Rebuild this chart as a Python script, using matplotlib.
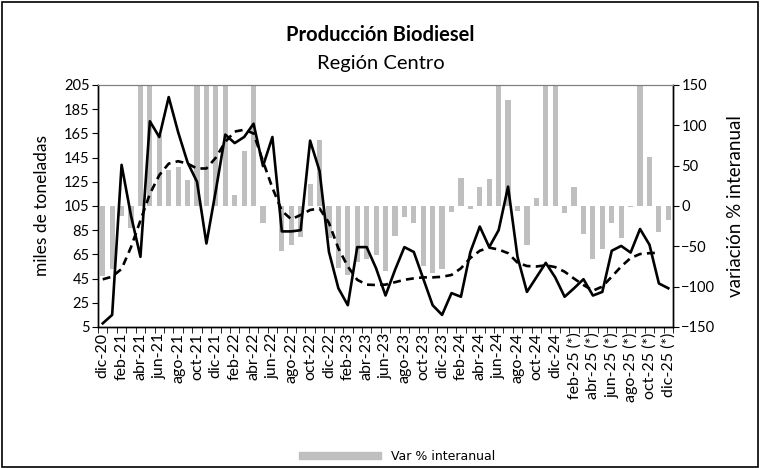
import matplotlib.pyplot as plt
import numpy as np
from matplotlib.patches import Patch, Rectangle

plt.rcParams['font.family'] = ['Lato', 'DejaVu Sans']

# meses dic-20 .. dic-25
meses = ['dic-20', 'ene-21', 'feb-21', 'mar-21', 'abr-21', 'may-21', 'jun-21', 'jul-21', 'ago-21',
         'sep-21', 'oct-21', 'nov-21', 'dic-21', 'ene-22', 'feb-22', 'mar-22', 'abr-22', 'may-22',
         'jun-22', 'jul-22', 'ago-22', 'sep-22', 'oct-22', 'nov-22', 'dic-22', 'ene-23', 'feb-23',
         'mar-23', 'abr-23', 'may-23', 'jun-23', 'jul-23', 'ago-23', 'sep-23', 'oct-23', 'nov-23',
         'dic-23', 'ene-24', 'feb-24', 'mar-24', 'abr-24', 'may-24', 'jun-24', 'jul-24', 'ago-24',
         'sep-24', 'oct-24', 'nov-24', 'dic-24', 'ene-25 (*)', 'feb-25 (*)', 'mar-25 (*)',
         'abr-25 (*)', 'may-25 (*)', 'jun-25 (*)', 'jul-25 (*)', 'ago-25 (*)', 'sep-25 (*)',
         'oct-25 (*)', 'nov-25 (*)', 'dic-25 (*)']

# produccion (miles de toneladas)
produccion = [8, 15, 139, 97, 63, 175, 162, 195, 166, 141, 125, 74,
              118, 164, 157, 162, 173, 138, 162, 84, 84, 85, 159, 134,
              67, 37, 23, 71, 71, 53.5, 31, 52, 71, 67, 45, 23,
              15, 33, 30, 67, 88, 71, 85, 121, 63, 34, 46, 58,
              46, 30, 37, 44.5, 31, 34, 68, 72, 66.5, 86, 73, 41, 37]

# tendencia (linea punteada)
tendencia = [44.4, 46.6, 53, 71, 93, 115, 130.5, 140, 142, 140, 136, 136,
             145, 158, 166.5, 168, 165, 142, 120, 101, 94, 97.6, 101.7, 103,
             91, 70, 55, 44, 40, 39.7, 40, 42, 44, 45.2, 46, 46,
             46.5, 48, 53.5, 62, 68, 70.6, 69, 66, 58.2, 55.4, 55, 56,
             54.5, 50.7, 45, 39.7, 35, 38.4, 46.6, 55, 62, 65.3, 66, 66.4, np.nan]

# variacion % interanual
var_ia = [-87, -78, -12, -27, 200, 200, 88, 44, 48, 32, 200, 200,
          300, 300, 13.6, 68, 175, -21, 0, -56, -48.5, -39, 27.5, 81.5,
          -40, -77, -85.5, -69, -66, -61, -81, -37, -14, -21, -74, -83.5,
          -78, -7, 35, -4, 23, 33.5, 170, 131, -6, -48.4, 9.5, 155,
          200, -9, 24, -35, -66, -53, -20.7, -40, -1.5, 160, 61, -32, -17]

x = np.arange(len(meses))

fig = plt.figure(figsize=(7.61, 4.68), dpi=100)
ax = fig.add_axes([0.1288, 0.3013, 0.7556, 0.5171])
ax2 = ax.twinx()
ax2.set_zorder(ax.get_zorder() - 1)
ax.patch.set_visible(False)

ax2.bar(x, var_ia, width=0.55, color='#BFBFBF', zorder=1)
ax2.set_ylim(-150, 150)
ax2.set_yticks(np.arange(-150, 151, 50))

ax.plot(x, produccion, color='black', lw=1.9, zorder=3)
ax.plot(x, tendencia, color='black', lw=1.9, ls=(0, (3, 2)), zorder=3)
ax.set_ylim(5, 205)
ax.set_yticks(np.arange(5, 206, 20))
ax.set_xlim(-0.5, len(meses) - 0.5)

ax.set_xticks(x[::2])
ax.set_xticklabels(meses[::2], rotation=90, fontsize=11.5)
ax.set_xticks(np.arange(-0.5, len(meses), 1), minor=True)
ax.tick_params(axis='x', which='major', length=0, pad=4)
ax.tick_params(axis='x', which='minor', length=4, direction='out')
ax.tick_params(axis='y', labelsize=10.5, length=4, pad=2)
ax2.tick_params(axis='y', labelsize=10.5, length=4, pad=2)

for a in (ax, ax2):
    a.spines['top'].set_color('#7f7f7f')
    a.spines['top'].set_linewidth(0.8)
    for s in ('left', 'right', 'bottom'):
        a.spines[s].set_linewidth(1.0)

ax.set_ylabel('miles de toneladas', fontsize=12.5, labelpad=10)
ax2.set_ylabel('variación % interanual', fontsize=13.5, labelpad=8)

fig.text(0.5, 0.925, 'Producción Biodiesel', ha='center', va='center', fontsize=14.5, fontweight='bold')
fig.text(0.5, 0.865, 'Región Centro', ha='center', va='center', fontsize=14.5)

fig.legend(handles=[Patch(color='#BFBFBF')], labels=['Var % interanual'],
           loc='center', bbox_to_anchor=(0.522, 0.024), frameon=False,
           handlelength=6.5, handleheight=0.5, prop={'family': 'DejaVu Sans', 'size': 9})

fig.patches.append(Rectangle((0.003, 0.003), 0.993, 0.993, transform=fig.transFigure,
                             fill=False, edgecolor='black', lw=1.2))

fig.savefig('out.png', dpi=100)
